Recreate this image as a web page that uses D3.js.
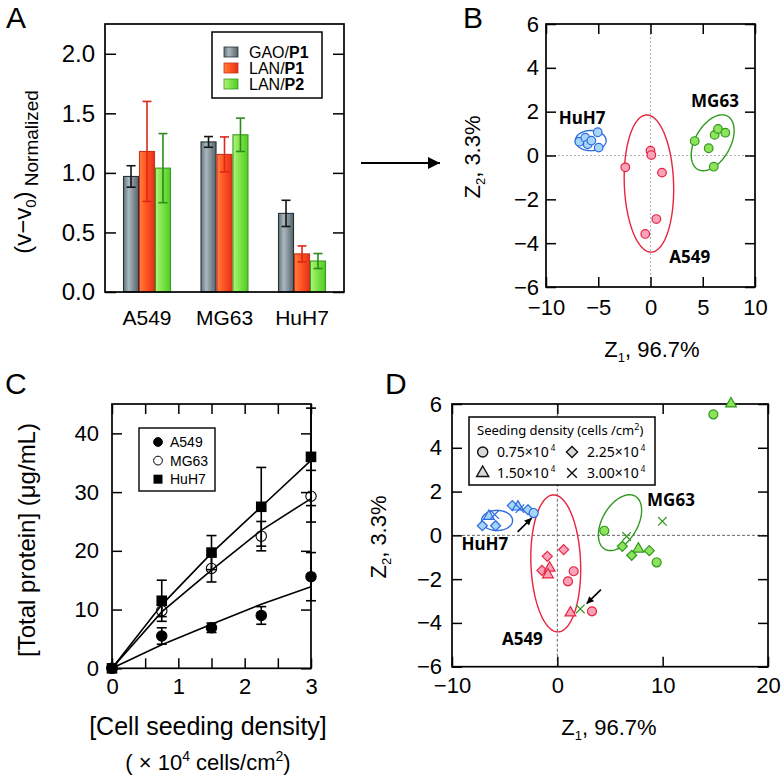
<!DOCTYPE html>
<html><head><meta charset="utf-8">
<script src="https://cdn.jsdelivr.net/npm/d3@7"></script>
<style>body{margin:0;background:#fff} svg{display:block}</style>
</head><body><svg id="fig" width="784" height="776"></svg>
<script>
// ---------------- Panel A data ----------------
const cellLines = ["A549", "MG63", "HuH7"];
const enzymes = ["GAO/P1", "LAN/P1", "LAN/P2"];
const gaoP1 = [0.97, 1.26, 0.66];
const gaoP1Err = [0.09, 0.045, 0.11];
const lanP1 = [1.18, 1.155, 0.32];
const lanP1Err = [0.42, 0.147, 0.067];
const lanP2 = [1.04, 1.32, 0.26];
const lanP2Err = [0.29, 0.14, 0.063];
const aTicks = [0, 0.5, 1.0, 1.5, 2.0];

// ---------------- Panel B data (PCA scores) ----------------
const bHuH7 = [[-6.81, 0.63], [-6.24, 0.81], [-6.01, 0.51], [-5.66, 0.68], [-5.05, 1.06], [-4.96, 0.36]];
const bA549 = [[0.0, 0.22], [0.08, 0.02], [-2.41, -0.54], [1.10, -0.78], [0.56, -2.90], [-0.5, -3.58]];
const bMG63 = [[4.23, 0.66], [5.57, 0.33], [6.05, -0.51], [6.14, 0.94], [6.46, 1.21], [7.16, 1.04]];
// ellipses: [cx, cy, axis1 dx, axis1 dy, axis2 dx, axis2 dy] (data units)
const ellHuH7 = [-5.72, 0.68, 1.47, 0.0, 0.0, 0.46];
const ellA549 = [-0.15, -1.28, 2.36, 0.0, -0.2, 3.13];
const ellMG63 = [5.95, 0.58, 1.40, 1.22, 1.50, -0.37];
const bXTicks = [-10, -5, 0, 5, 10];
const bYTicks = [-6, -4, -2, 0, 2, 4, 6];

// ---------------- Panel C data ----------------
const densities = [0, 0.75, 1.5, 2.25, 3];
const cA549 = [0, 5.5, 6.9, 9.0, 15.6];
const cA549Err = [0, 1.4, 0.8, 1.5, 4.1];
const cMG63 = [0, 9.8, 17.0, 22.5, 29.3];
const cMG63Err = [0, 1.0, 2.3, 2.5, 4.4];
const cHuH7 = [0, 11.5, 19.7, 27.5, 36.0];
const cHuH7Err = [0, 3.5, 2.9, 6.7, 8.3];
const fitA549 = [0, 4.0, 7.5, 10.9, 13.9];
const fitMG63 = [0, 9.6, 16.7, 23.5, 28.9];
const fitHuH7 = [0, 10.8, 19.6, 27.5, 35.4];
const cXTicks = [0, 1, 2, 3];
const cXMinor = [0, 0.5, 1, 1.5, 2, 2.5, 3];
const cYTicks = [0, 10, 20, 30, 40];

// ---------------- Panel D data ----------------
const densityLabels = ["0.75", "1.50", "2.25", "3.00"]; // x10^4 cells/cm2
// [Z1, Z2, density index]
const dHuH7 = [[-7.12, 0.44, 2], [-5.86, 0.44, 2], [-6.5, 0.87, 1], [-5.95, 0.95, 3], [-4.27, 1.36, 2], [-3.74, 1.30, 1], [-3.55, 1.22, 3], [-2.79, 1.17, 2], [-2.25, 1.02, 0]];
const dA549 = [[-0.95, -0.96, 2], [0.60, -0.65, 2], [-1.46, -1.60, 2], [-0.73, -1.49, 1], [-0.89, -1.80, 1], [1.24, -3.54, 1], [1.55, -1.64, 0], [1.01, -2.10, 0], [3.29, -3.47, 0]];
const dMG63 = [[4.46, 0.21, 0], [9.43, -1.23, 0], [14.81, 5.53, 0], [16.49, 6.01, 1], [7.69, -0.62, 1], [6.17, -0.50, 2], [7.06, -0.91, 2], [8.73, -0.70, 2], [6.58, -0.05, 3], [9.97, 0.64, 3], [2.18, -3.36, 3]];
const dXTicks = [-10, 0, 10, 20];
const dYTicks = [-6, -4, -2, 0, 2, 4, 6];
const dArrows = [[-3.77, 0.16, -2.44, 0.79], [4.14, -2.48, 2.78, -3.12]];

// ---------------- styles ----------------
const FONT = "'Liberation Sans', Arial, Helvetica, sans-serif";
const LFONT = "'Noto Sans', sans-serif";
const colHuH7 = {stroke: "#2d6be0", fill: "#a6d6f7"};
const colA549 = {stroke: "#e8243f", fill: "#f7a3bb"};
const colMG63 = {stroke: "#2f9a1e", fill: "#8fe35c"};

const svg = d3.select("#fig");
const defs = svg.append("defs");
function grad(id, stops) {
  const g = defs.append("linearGradient").attr("id", id).attr("x1", 0).attr("x2", 1).attr("y1", 0).attr("y2", 0);
  stops.forEach(([o, c]) => g.append("stop").attr("offset", o).attr("stop-color", c));
}
grad("gGray", [[0, "#66747c"], [0.35, "#a9b7be"], [1, "#57636b"]]);
grad("gRed", [[0, "#ff8040"], [0.4, "#ff5a22"], [1, "#e5301b"]]);
grad("gGreen", [[0, "#b2f37e"], [0.4, "#84e64d"], [1, "#4fcc25"]]);
function marker(id, w, h) {
  defs.append("marker").attr("id", id).attr("viewBox", "0 0 10 10").attr("refX", 10).attr("refY", 5)
    .attr("markerWidth", w).attr("markerHeight", h).attr("markerUnits", "userSpaceOnUse").attr("orient", "auto")
    .append("path").attr("d", "M0,0 L10,5 L0,10 z").attr("fill", "#000");
}
marker("bigHead", 19, 12);
marker("smallHead", 9, 7);

function styleAxis(g, size) {
  g.select(".domain").remove();
  g.selectAll("text").style("font-family", FONT).style("font-size", size + "px").attr("fill", "#000");
  g.selectAll("line").attr("stroke", "#000").attr("stroke-width", 1.5);
}
function frame(x, y) {
  const [x0, x1] = x.range(), [y0, y1] = y.range();
  svg.append("rect").attr("x", Math.min(x0, x1)).attr("y", Math.min(y0, y1))
    .attr("width", Math.abs(x1 - x0)).attr("height", Math.abs(y1 - y0))
    .attr("fill", "none").attr("stroke", "#000").attr("stroke-width", 1.7);
}
function boxAxes(x, y, xt, yt, xPad, yPad, size, tick) {
  const [xl, xr] = x.range(), [yb, ytp] = y.range();
  svg.append("g").attr("transform", `translate(${xl},0)`)
    .call(d3.axisLeft(y).tickValues(yt).tickSize(-tick).tickPadding(yPad)).call(g => styleAxis(g, size));
  svg.append("g").attr("transform", `translate(${xr},0)`)
    .call(d3.axisRight(y).tickValues(yt).tickSize(-tick).tickFormat("")).call(g => styleAxis(g, size));
  svg.append("g").attr("transform", `translate(0,${yb})`)
    .call(d3.axisBottom(x).tickValues(xt).tickSize(-tick).tickPadding(xPad)).call(g => styleAxis(g, size));
  svg.append("g").attr("transform", `translate(0,${ytp})`)
    .call(d3.axisTop(x).tickValues(xt).tickSize(-tick).tickFormat("")).call(g => styleAxis(g, size));
}
function letter(t, x, y) {
  svg.append("text").attr("x", x).attr("y", y).text(t).style("font-family", FONT).style("font-size", "30px");
}
function zLabel(x, y, sub, rest, rot) {
  const t = svg.append("text").attr("transform", `translate(${x},${y})` + (rot ? " rotate(-90)" : ""))
    .attr("text-anchor", "middle").style("font-family", FONT).style("font-size", "22px");
  t.append("tspan").text("Z");
  t.append("tspan").attr("dy", 5).style("font-size", "13px").text(sub);
  t.append("tspan").attr("dy", -5).text(rest);
}
function ellipse(x, y, e, color) {
  const pts = d3.range(0, 121).map(i => {
    const a = i / 120 * 2 * Math.PI;
    return [e[0] + e[2] * Math.cos(a) + e[4] * Math.sin(a), e[1] + e[3] * Math.cos(a) + e[5] * Math.sin(a)];
  });
  svg.append("path").attr("d", d3.line().x(d => x(d[0])).y(d => y(d[1])).curve(d3.curveLinearClosed)(pts))
    .attr("fill", "none").attr("stroke", color).attr("stroke-width", 1.4);
}
function zeroLines(x, y, color, dash, w) {
  svg.append("line").attr("x1", x(0)).attr("x2", x(0)).attr("y1", y.range()[0]).attr("y2", y.range()[1])
    .attr("stroke", color).attr("stroke-dasharray", dash).attr("stroke-width", w);
  svg.append("line").attr("y1", y(0)).attr("y2", y(0)).attr("x1", x.range()[0]).attr("x2", x.range()[1])
    .attr("stroke", color).attr("stroke-dasharray", dash).attr("stroke-width", w);
}
function groupLabel(x, y, t, px, py) {
  svg.append("text").attr("x", x(px)).attr("y", y(py)).attr("text-anchor", "middle").text(t)
    .style("font-family", LFONT).style("font-weight", "bold").style("font-size", "17px");
}

// ================= Panel A =================
const ax = d3.scaleBand().domain(cellLines).range([105, 344]).paddingInner(0.394).paddingOuter(0.239);
const axIn = d3.scaleBand().domain(enzymes).range([0, ax.bandwidth()]).paddingInner(0.06);
const ay = d3.scaleLinear().domain([0, 2.25]).range([292, 24]);
const seriesA = [
  {name: enzymes[0], v: gaoP1, e: gaoP1Err, fill: "url(#gGray)", stroke: "#2a3136", err: "#151515"},
  {name: enzymes[1], v: lanP1, e: lanP1Err, fill: "url(#gRed)", stroke: "#c8321a", err: "#e0261a"},
  {name: enzymes[2], v: lanP2, e: lanP2Err, fill: "url(#gGreen)", stroke: "#3c9a22", err: "#2e8a1c"}
];
svg.append("g").attr("transform", `translate(${ax.range()[0]},0)`)
  .call(d3.axisLeft(ay).tickValues(aTicks).tickFormat(d3.format(".1f")).tickSize(-11).tickPadding(10)).call(g => styleAxis(g, 24));
svg.append("g").attr("transform", `translate(${ax.range()[1]},0)`)
  .call(d3.axisRight(ay).tickValues(aTicks).tickSize(-11).tickFormat("")).call(g => styleAxis(g, 24));
svg.append("g").attr("transform", `translate(0,${ay(0)})`)
  .call(d3.axisBottom(ax).tickSize(0).tickPadding(18)).call(g => styleAxis(g, 21));
seriesA.forEach(s => {
  const g = svg.append("g");
  cellLines.forEach((c, i) => {
    const x0 = ax(c) + axIn(s.name), bw = axIn.bandwidth(), cx = x0 + bw / 2;
    g.append("rect").attr("x", x0).attr("y", ay(s.v[i])).attr("width", bw).attr("height", ay(0) - ay(s.v[i]))
      .attr("fill", s.fill).attr("stroke", s.stroke).attr("stroke-width", 1.1);
    const hi = ay(s.v[i] + s.e[i]), lo = ay(s.v[i] - s.e[i]);
    g.append("line").attr("x1", cx).attr("x2", cx).attr("y1", hi).attr("y2", lo).attr("stroke", s.err).attr("stroke-width", 1.6);
    [hi, lo].forEach(yy => g.append("line").attr("x1", cx - 4.5).attr("x2", cx + 4.5).attr("y1", yy).attr("y2", yy).attr("stroke", s.err).attr("stroke-width", 1.6));
  });
});
frame(d3.scaleLinear().range([105, 344]), ay);
// legend A
svg.append("rect").attr("x", 212).attr("y", 32).attr("width", 110).attr("height", 66).attr("fill", "#fff").attr("stroke", "#000").attr("stroke-width", 1.5);
seriesA.forEach((s, i) => {
  const cy = 52 + i * 16;
  svg.append("rect").attr("x", 224).attr("y", cy - 5).attr("width", 14).attr("height", 10).attr("fill", s.fill).attr("stroke", s.stroke).attr("stroke-width", 0.8);
  const [a, b] = s.name.split("/");
  const t = svg.append("text").attr("x", 249).attr("y", cy + 5.5).style("font-family", FONT).style("font-size", "16px");
  t.append("tspan").text(a + "/");
  t.append("tspan").style("font-weight", "bold").text(b);
});
// y label A
{
  const t = svg.append("text").attr("transform", "translate(31,172) rotate(-90)").attr("text-anchor", "middle")
    .style("font-family", FONT).style("font-size", "24px");
  t.append("tspan").text("(v\u2212v");
  t.append("tspan").attr("dy", 5).style("font-size", "15px").text("0");
  t.append("tspan").attr("dy", -5).text(")");
  t.append("tspan").attr("dy", 7).style("font-size", "19px").text(" Normalized");
}
letter("A", 6, 28);
// arrow A -> B
svg.append("line").attr("x1", 361).attr("x2", 440).attr("y1", 163).attr("y2", 163).attr("stroke", "#000").attr("stroke-width", 2).attr("marker-end", "url(#bigHead)");

// ================= Panel B =================
const bx = d3.scaleLinear().domain([-10, 10]).range([546, 755]);
const by = d3.scaleLinear().domain([-6, 6]).range([287, 24]);
zeroLines(bx, by, "#b5b5b5", "2,2", 1.2);
boxAxes(bx, by, bXTicks, bYTicks, 12, 7, 22, 10);
frame(bx, by);
ellipse(bx, by, ellHuH7, colHuH7.stroke);
ellipse(bx, by, ellA549, colA549.stroke);
ellipse(bx, by, ellMG63, colMG63.stroke);
[[bHuH7, colHuH7], [bA549, colA549], [bMG63, colMG63]].forEach(([pts, c]) => {
  svg.append("g").selectAll("circle").data(pts).join("circle")
    .attr("cx", d => bx(d[0])).attr("cy", d => by(d[1])).attr("r", 4.3)
    .attr("fill", c.fill).attr("stroke", c.stroke).attr("stroke-width", 1.2);
});
groupLabel(bx, by, "HuH7", -6.55, 1.42);
groupLabel(bx, by, "MG63", 6.17, 2.2);
groupLabel(bx, by, "A549", 3.75, -4.89);
zLabel(480, 157, "2", ", 3.3%", true);
zLabel(652, 357, "1", ", 96.7%", false);
letter("B", 463, 28);

// ================= Panel C =================
const cx = d3.scaleLinear().domain([0, 3]).range([112, 311]);
const cy = d3.scaleLinear().domain([0, 45]).range([668.3, 404]);
svg.append("g").attr("transform", `translate(${cx.range()[0]},0)`)
  .call(d3.axisLeft(cy).tickValues(cYTicks).tickSize(-10).tickPadding(13)).call(g => styleAxis(g, 22));
svg.append("g").attr("transform", `translate(${cx.range()[1]},0)`)
  .call(d3.axisRight(cy).tickValues(cYTicks).tickSize(-10).tickFormat("")).call(g => styleAxis(g, 22));
svg.append("g").attr("transform", `translate(0,${cy.range()[0]})`)
  .call(d3.axisBottom(cx).tickValues(cXMinor).tickSize(-10).tickPadding(10).tickFormat(d => cXTicks.includes(d) ? d : "")).call(g => styleAxis(g, 22));
svg.append("g").attr("transform", `translate(0,${cy.range()[1]})`)
  .call(d3.axisTop(cx).tickValues(cXMinor).tickSize(-10).tickFormat("")).call(g => styleAxis(g, 22));
frame(cx, cy);
const seriesC = [
  {name: "A549", v: cA549, e: cA549Err, fit: fitA549, shape: "circle", fill: "#000"},
  {name: "MG63", v: cMG63, e: cMG63Err, fit: fitMG63, shape: "circle", fill: "none"},
  {name: "HuH7", v: cHuH7, e: cHuH7Err, fit: fitHuH7, shape: "square", fill: "#000"}
];
const lineC = d3.line().x((d, i) => cx(densities[i])).y(d => cy(d));
seriesC.forEach(s => {
  svg.append("path").attr("d", lineC(s.fit)).attr("fill", "none").attr("stroke", "#000").attr("stroke-width", 1.6);
});
seriesC.forEach(s => {
  const g = svg.append("g");
  densities.forEach((dd, i) => {
    const px = cx(dd);
    if (s.e[i] > 0) {
      const hi = cy(s.v[i] + s.e[i]), lo = cy(s.v[i] - s.e[i]);
      g.append("line").attr("x1", px).attr("x2", px).attr("y1", hi).attr("y2", lo).attr("stroke", "#000").attr("stroke-width", 1.6);
      [hi, lo].forEach(yy => g.append("line").attr("x1", px - 5).attr("x2", px + 5).attr("y1", yy).attr("y2", yy).attr("stroke", "#000").attr("stroke-width", 1.6));
    }
    const py = cy(s.v[i]);
    if (s.shape === "square") g.append("rect").attr("x", px - 5.3).attr("y", py - 5.3).attr("width", 10.6).attr("height", 10.6).attr("fill", "#000");
    else g.append("circle").attr("cx", px).attr("cy", py).attr("r", 5.2).attr("fill", s.fill).attr("stroke", "#000").attr("stroke-width", 1.1);
  });
});
// legend C
svg.append("rect").attr("x", 139).attr("y", 428).attr("width", 76).attr("height", 63).attr("fill", "#fff").attr("stroke", "#000").attr("stroke-width", 1.4);
seriesC.forEach((s, i) => {
  const yy = 442 + i * 18.6;
  if (s.shape === "square") svg.append("rect").attr("x", 153.5).attr("y", yy - 4.5).attr("width", 9).attr("height", 9).attr("fill", "#000");
  else svg.append("circle").attr("cx", 158).attr("cy", yy).attr("r", 4.4).attr("fill", s.fill === "none" ? "#fff" : "#000").attr("stroke", "#000").attr("stroke-width", 1);
  svg.append("text").attr("x", 170).attr("y", yy + 5).text(s.name).style("font-family", FONT).style("font-size", "14px");
});
svg.append("text").attr("transform", "translate(35,540) rotate(-90)").attr("text-anchor", "middle")
  .style("font-family", FONT).style("font-size", "24px").text("[Total protein] (\u03bcg/mL)");
svg.append("text").attr("x", 208).attr("y", 735).attr("text-anchor", "middle")
  .style("font-family", FONT).style("font-size", "25px").text("[Cell seeding density]");
{
  const t = svg.append("text").attr("x", 208).attr("y", 770).attr("text-anchor", "middle").style("font-family", FONT).style("font-size", "22px");
  t.append("tspan").text("( \u00d7 10");
  t.append("tspan").attr("dy", -9).style("font-size", "14px").text("4");
  t.append("tspan").attr("dy", 9).text(" cells/cm");
  t.append("tspan").attr("dy", -9).style("font-size", "14px").text("2");
  t.append("tspan").attr("dy", 9).text(")");
}
letter("C", 5, 394);

// ================= Panel D =================
const dx = d3.scaleLinear().domain([-10, 20]).range([452, 768]);
const dy = d3.scaleLinear().domain([-6, 6]).range([666.7, 404]);
zeroLines(dx, dy, "#555", "3,2", 0.9);
boxAxes(dx, dy, dXTicks, dYTicks, 11, 10, 22, 10);
frame(dx, dy);
ellipse(dx, dy, ellHuH7, colHuH7.stroke);
ellipse(dx, dy, ellA549, colA549.stroke);
ellipse(dx, dy, ellMG63, colMG63.stroke);
const symTypes = [d3.symbolCircle, d3.symbolTriangle2 || d3.symbolTriangle, d3.symbolDiamond2 || d3.symbolDiamond, d3.symbolTimes || d3.symbolCross];
const symSizes = [64, 84, 64, 50];
[[dHuH7, colHuH7], [dA549, colA549], [dMG63, colMG63]].forEach(([pts, c]) => {
  svg.append("g").selectAll("path").data(pts).join("path")
    .attr("transform", d => `translate(${dx(d[0])},${dy(d[1])})`)
    .attr("d", d => d3.symbol(symTypes[d[2]], symSizes[d[2]])())
    .attr("fill", d => d[2] === 3 ? "none" : c.fill).attr("stroke", c.stroke).attr("stroke-width", 1.2);
});
dArrows.forEach(a => {
  svg.append("line").attr("x1", dx(a[0])).attr("y1", dy(a[1])).attr("x2", dx(a[2])).attr("y2", dy(a[3]))
    .attr("stroke", "#000").attr("stroke-width", 1.6).attr("marker-end", "url(#smallHead)");
});
groupLabel(dx, dy, "HuH7", -6.88, -0.68);
groupLabel(dx, dy, "MG63", 10.79, 1.32);
groupLabel(dx, dy, "A549", -3.32, -4.99);
// legend D
svg.append("rect").attr("x", 469).attr("y", 417).attr("width", 186).attr("height", 68).attr("fill", "#fff").attr("stroke", "#000").attr("stroke-width", 1.5);
{
  const t = svg.append("text").attr("x", 477).attr("y", 435).style("font-family", LFONT).style("font-size", "13px");
  t.append("tspan").text("Seeding density (cells /cm");
  t.append("tspan").attr("dy", -5).style("font-size", "9px").text("2");
  t.append("tspan").attr("dy", 5).text(")");
}
const legPos = [[482.7, 452, 497], [482.7, 473, 497], [572, 452, 587], [572, 473, 587]];
densityLabels.forEach((lab, i) => {
  const [sx, sy, tx] = legPos[i];
  svg.append("path").attr("transform", `translate(${sx},${sy})`).attr("d", d3.symbol(symTypes[i], symSizes[i] * 1.25)())
    .attr("fill", i === 3 ? "none" : "#d9d9d9").attr("stroke", "#111").attr("stroke-width", 1.4);
  const t = svg.append("text").attr("x", tx).attr("y", sy + 5).style("font-family", LFONT).style("font-size", "14px");
  t.append("tspan").text(lab + "\u00d710");
  t.append("tspan").attr("dx", 2).attr("dy", -6).style("font-size", "8px").text("4");
});
zLabel(386, 537, "2", ", 3.3%", true);
zLabel(609, 735, "1", ", 96.7%", false);
letter("D", 385, 394);
</script>
</body></html>
